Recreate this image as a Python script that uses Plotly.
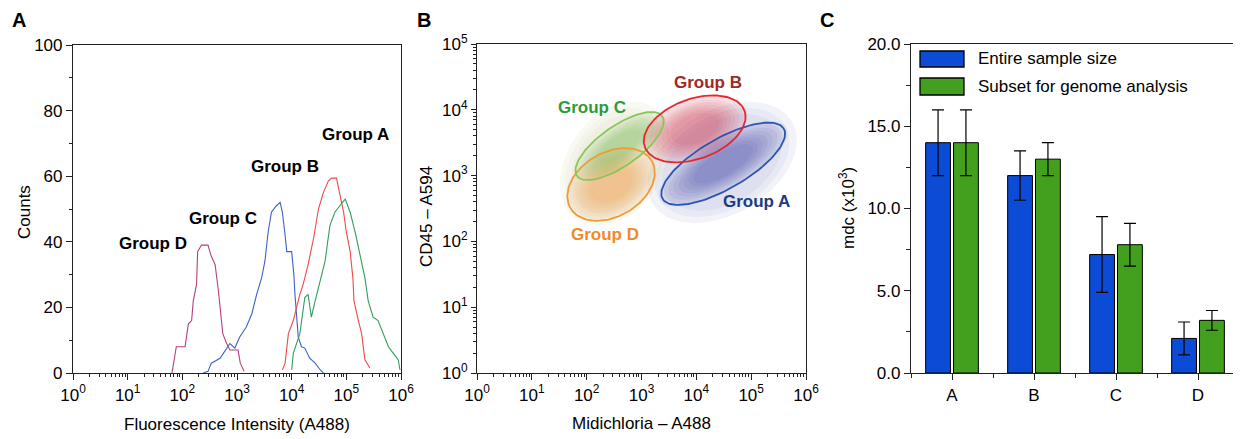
import numpy as np
import plotly.graph_objects as go

W, H = 1241, 439
OFF = 8                     # page body offset of the plot div
FW, FH = W - OFF, H - OFF
FONT = "Liberation Sans, Arial, Helvetica, sans-serif"

# ---------------- Panel A: histogram data (log10 intensity, counts) ----------------
grpD_logx = [1.81, 1.89, 2.05, 2.11, 2.17, 2.20, 2.26, 2.28, 2.35, 2.47, 2.52, 2.60, 2.66, 2.70,
             2.74, 2.81, 2.87, 3.02, 3.06, 3.13]
grpD_cnt = [0, 8, 8, 15, 16, 22, 27, 37, 39, 39, 36, 33, 25, 19, 12, 9, 7, 7, 3, 0.5]

grpC_logx = [2.38, 2.47, 2.53, 2.69, 2.75, 2.87, 2.96, 3.05, 3.17, 3.27, 3.36, 3.45, 3.51, 3.57,
             3.63, 3.72, 3.79, 3.83, 3.88, 3.91, 4.00, 4.04, 4.06, 4.09, 4.12, 4.18, 4.24, 4.33,
             4.43, 4.52, 4.58]
grpC_cnt = [0, 0.5, 3, 4.5, 6, 9, 7.6, 11, 14, 18, 24, 29, 34, 43, 49, 51, 52, 49, 42, 37, 37, 30,
            24, 16, 11, 8, 7.6, 4.5, 3, 1, 0]

grpB_logx = [3.83, 3.88, 3.94, 4.03, 4.15, 4.21, 4.30, 4.40, 4.49, 4.58, 4.67, 4.73, 4.82, 4.88,
             4.95, 5.00, 5.07, 5.12, 5.14, 5.22, 5.28, 5.34, 5.43]
grpB_cnt = [1, 3, 12, 16, 24, 27, 33, 41, 50, 55, 58.5, 59.4, 59.4, 55, 49, 43, 37, 29, 22, 16,
            12, 4, 1.5]

grpA_logx = [4.00, 4.03, 4.15, 4.24, 4.30, 4.36, 4.43, 4.52, 4.61, 4.70, 4.79, 4.88, 4.98, 5.07,
             5.16, 5.25, 5.34, 5.40, 5.49, 5.58, 5.68, 5.77, 5.86, 5.95, 5.98]
grpA_cnt = [1, 6, 12, 23, 24, 17, 22, 28, 34, 45, 49, 51, 53, 49, 43, 36, 29, 22, 17, 16, 12, 8,
            6, 4, 1]

hist_colors = {"A": "#2f9e5c", "B": "#f0484a", "C": "#3d62c6", "D": "#b5407a"}

# label positions in panel A (log10 x, counts)
histlab_text = ["Group A", "Group B", "Group C", "Group D"]
histlab_logx = [5.16, 3.88, 2.74, 1.46]
histlab_y = [72.6, 63.0, 47.2, 39.6]

# ---------------- Panel B: gate parameters ----------------
gate_names = ["Group A", "Group B", "Group C", "Group D"]
gate_cx = [4.49, 3.97, 2.60, 2.445]     # log10 Midichloria
gate_cy = [3.18, 3.71, 3.45, 2.865]     # log10 CD45
gate_a = [70, 53, 52, 47]               # semi-axes (screen px)
gate_b = [25, 30, 20, 32]
gate_ang = [30, 20, 35, 30]             # degrees
gate_line = ["#2a55b0", "#e8262b", "#8cc65a", "#f39a35"]
gate_rgb = ["60,60,160", "205,45,65", "125,185,85", "242,150,60"]
gate_lab_color = ["#1f3b80", "#a3281f", "#2e9b3a", "#f0892b"]
gate_lab_lx = [5.09, 4.215, 2.10, 2.34]
gate_lab_ly = [2.60, 4.42, 4.03, 2.10]

haze_cx = [4.47, 2.52]
haze_cy = [3.20, 3.18]
haze_a = [81, 68]
haze_b = [52, 48]
haze_ang = [30, 55]
haze_fill = ["rgba(175,178,215,0.16)", "rgba(215,215,185,0.16)"]

# ---------------- Panel C: bar data ----------------
categories = ["A", "B", "C", "D"]
entire_mean = [14.0, 12.0, 7.2, 2.1]
entire_lo = [12.0, 10.5, 4.9, 1.1]
entire_hi = [16.0, 13.5, 9.5, 3.1]
subset_mean = [14.0, 13.0, 7.8, 3.2]
subset_lo = [12.0, 12.0, 6.5, 2.6]
subset_hi = [16.0, 14.0, 9.1, 3.8]
BLUE = "#0b4bd6"
GREEN = "#43a01e"

# ---------------- layout geometry (window pixels) ----------------
def px_x(p):
    return (p - OFF) / FW

def px_y(p):
    return (H - p) / FH

A_box = (73, 401, 45, 373)
B_box = (477, 806, 44, 373)
C_box = (911, 1239, 44, 373)

fig = go.Figure()

# Panel A traces
for key, lx, cnt in [("D", grpD_logx, grpD_cnt), ("C", grpC_logx, grpC_cnt),
                     ("B", grpB_logx, grpB_cnt), ("A", grpA_logx, grpA_cnt)]:
    fig.add_trace(go.Scatter(x=10 ** np.array(lx), y=cnt, mode="lines",
                             line=dict(color=hist_colors[key], width=1.1),
                             xaxis="x", yaxis="y", showlegend=False, hoverinfo="skip"))

# Panel B traces
pxx = (B_box[1] - B_box[0]) / 6.0
pxy = (B_box[3] - B_box[2]) / 5.0
t = np.linspace(0, 2 * np.pi, 120)


def ell(cx, cy, a, b, ang, s=1.0):
    th = np.deg2rad(ang)
    u = s * a * np.cos(t)
    v = s * b * np.sin(t)
    dx = u * np.cos(th) - v * np.sin(th)
    dy = u * np.sin(th) + v * np.cos(th)
    return 10 ** (cx + dx / pxx), 10 ** (cy + dy / pxy)


for i in range(len(haze_cx)):
    for s in (1.0, 0.9, 0.8):
        ex, ey = ell(haze_cx[i], haze_cy[i], haze_a[i], haze_b[i], haze_ang[i], s)
        fig.add_trace(go.Scatter(x=ex, y=ey, mode="lines", fill="toself",
                                 fillcolor=haze_fill[i], line=dict(width=0),
                                 xaxis="x2", yaxis="y2", showlegend=False, hoverinfo="skip"))

fill_scales = [1.04, 0.96, 0.88, 0.8, 0.72, 0.64, 0.56, 0.48]
for i in [3, 2, 0, 1]:
    for s in fill_scales:
        ex, ey = ell(gate_cx[i], gate_cy[i], gate_a[i], gate_b[i], gate_ang[i], s)
        fig.add_trace(go.Scatter(x=ex, y=ey, mode="lines", fill="toself",
                                 fillcolor="rgba(%s,0.075)" % gate_rgb[i], line=dict(width=0),
                                 xaxis="x2", yaxis="y2", showlegend=False, hoverinfo="skip"))

for i in [3, 2, 0, 1]:
    ex, ey = ell(gate_cx[i], gate_cy[i], gate_a[i], gate_b[i], gate_ang[i])
    fig.add_trace(go.Scatter(x=ex, y=ey, mode="lines", line=dict(color=gate_line[i], width=1.8),
                             xaxis="x2", yaxis="y2", showlegend=False, hoverinfo="skip"))

# Panel C bars
xpos = list(range(len(categories)))
fig.add_trace(go.Bar(x=xpos, y=entire_mean, name="Entire sample size",
                     marker=dict(color=BLUE, line=dict(color="black", width=1)),
                     error_y=dict(type="data", symmetric=False,
                                  array=[h - m for h, m in zip(entire_hi, entire_mean)],
                                  arrayminus=[m - l for m, l in zip(entire_mean, entire_lo)],
                                  color="black", thickness=1.2, width=6),
                     xaxis="x3", yaxis="y3", showlegend=False))
fig.add_trace(go.Bar(x=xpos, y=subset_mean, name="Subset for genome analysis",
                     marker=dict(color=GREEN, line=dict(color="black", width=1)),
                     error_y=dict(type="data", symmetric=False,
                                  array=[h - m for h, m in zip(subset_hi, subset_mean)],
                                  arrayminus=[m - l for m, l in zip(subset_mean, subset_lo)],
                                  color="black", thickness=1.2, width=6),
                     xaxis="x3", yaxis="y3", showlegend=False))

# ---------------- axes ----------------
logvals = [10 ** k for k in range(0, 7)]
logtext = ["10<sup>%d</sup>" % k for k in range(0, 7)]
minor_log = [m * 10 ** k for k in range(0, 6) for m in range(2, 10)]
tickfont = dict(family=FONT, size=17, color="black")
AX = dict(showgrid=False, zeroline=False, showline=True, linecolor="#222", linewidth=1.2,
          mirror=True, ticks="outside", tickcolor="#222", tickfont=tickfont, automargin=False)

fig.update_layout(
    xaxis=dict(AX, type="log", range=[0, 6], domain=[px_x(A_box[0]), px_x(A_box[1])],
               tickvals=logvals, ticktext=logtext, ticklen=6,
               minor=dict(tickvals=minor_log, ticks="outside", ticklen=3, tickcolor="#222"),
               anchor="y"),
    yaxis=dict(AX, range=[0, 100], domain=[px_y(A_box[3]), px_y(A_box[2])],
               tickvals=[0, 20, 40, 60, 80, 100], ticklen=6,
               minor=dict(tickvals=[10, 30, 50, 70, 90], ticks="outside", ticklen=3,
                          tickcolor="#222"),
               anchor="x"),
    xaxis2=dict(AX, type="log", range=[0, 6], domain=[px_x(B_box[0]), px_x(B_box[1])],
                tickvals=logvals, ticktext=logtext, ticklen=6,
                minor=dict(tickvals=minor_log, ticks="outside", ticklen=3, tickcolor="#222"),
                anchor="y2"),
    yaxis2=dict(AX, type="log", range=[0, 5], domain=[px_y(B_box[3]), px_y(B_box[2])],
                tickvals=logvals[:6], ticktext=logtext[:6], ticklen=5,
                minor=dict(tickvals=[m * 10 ** k for k in range(0, 5) for m in range(2, 10)],
                           ticks="outside", ticklen=3, tickcolor="#222"),
                anchor="x2"),
    xaxis3=dict(AX, range=[-0.5, 3.5], domain=[px_x(C_box[0]), px_x(C_box[1])],
                tickvals=xpos, ticktext=categories, ticklen=6,
                minor=dict(tickvals=[-0.5, 0.5, 1.5, 2.5, 3.5], ticks="outside", ticklen=4,
                           tickcolor="#222"),
                anchor="y3"),
    yaxis3=dict(AX, range=[0, 20], domain=[px_y(C_box[3]), px_y(C_box[2])],
                tickvals=[0, 5, 10, 15, 20], tickformat=".1f", ticklen=6,
                minor=dict(tickvals=[2.5, 7.5, 12.5, 17.5], ticks="outside", ticklen=4,
                           tickcolor="#222"),
                anchor="x3"),
    barmode="group", bargap=0.32, bargroupgap=0.11,
    width=FW, height=FH, margin=dict(l=0, r=0, t=0, b=0),
    paper_bgcolor="white", plot_bgcolor="white",
    font=dict(family=FONT, size=17, color="black"),
)

ann = []


def paper_text(x, y, text, size=17, bold=False, angle=0, color="black", xanchor="center",
               yanchor="middle", pad=1):
    ann.append(dict(x=px_x(x), y=px_y(y), xref="paper", yref="paper", text=text,
                    showarrow=False, textangle=angle, xanchor=xanchor, yanchor=yanchor,
                    borderpad=pad,
                    font=dict(family=FONT, size=size, color=color,
                              weight="bold" if bold else "normal")))


# panel letters
paper_text(19, 8.5, "A", size=20, bold=True, yanchor="top", pad=0)
paper_text(424, 8.5, "B", size=20, bold=True, yanchor="top", pad=0)
paper_text(827, 8.5, "C", size=20, bold=True, yanchor="top", pad=0)

# axis titles
paper_text(237, 424, "Fluorescence Intensity (A488)", size=17)
paper_text(24, 212, "Counts", size=17, angle=-90)
paper_text(641, 423, "Midichloria – A488", size=17)
paper_text(426, 217, "CD45 – A594", size=17, angle=-90)
paper_text(847, 208, "mdc (x10<sup>3</sup>)", size=17, angle=-90)

# panel A group labels
for txt, lx, yy in zip(histlab_text, histlab_logx, histlab_y):
    ann.append(dict(x=lx, y=yy, xref="x", yref="y", text=txt, showarrow=False,
                    font=dict(family=FONT, size=17, color="black", weight="bold")))

# panel B group labels
for txt, lx, ly, c in zip(gate_names, gate_lab_lx, gate_lab_ly, gate_lab_color):
    ann.append(dict(x=lx, y=ly, xref="x2", yref="y2", text=txt, showarrow=False,
                    font=dict(family=FONT, size=17, color=c, weight="bold")))

# panel C legend
shapes = []
leg_items = [("Entire sample size", BLUE, 51, 67), ("Subset for genome analysis", GREEN, 78, 95)]
for label, col, y0, y1 in leg_items:
    shapes.append(dict(type="rect", xref="paper", yref="paper", x0=px_x(920), x1=px_x(964),
                       y0=px_y(y1), y1=px_y(y0), fillcolor=col,
                       line=dict(color="black", width=1.3)))
    paper_text(976, (y0 + y1) / 2, label, size=17, xanchor="left")

fig.update_layout(annotations=ann, shapes=shapes)
fig.write_html("out.html")
